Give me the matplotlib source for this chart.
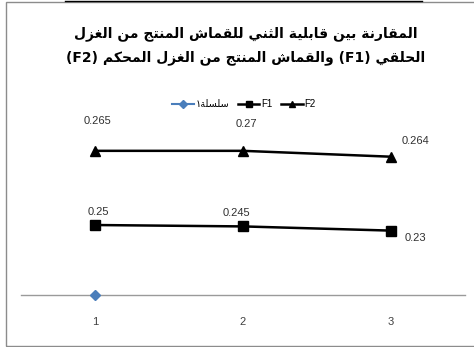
import re
import numpy as np
import matplotlib
matplotlib.use("Agg")
import matplotlib.pyplot as plt
from matplotlib.lines import Line2D
from matplotlib.patches import Rectangle

# Datos (grafico de lineas apiladas)
categorias = [1, 2, 3]
serie1 = [0, np.nan, np.nan]
f1 = [0.25, 0.245, 0.23]
f2 = [0.265, 0.27, 0.264]
titulo = ["المقارنة بين قابلية الثني للقماش المنتج من الغزل",
          "الحلقي (F1) والقماش المنتج من الغزل المحكم (F2)"]
nombres = ["سلسلة١", "F1", "F2"]

# formas de presentacion arabes (matplotlib no hace el "shaping")
DUAL = {0x628: 0xFE8F, 0x62A: 0xFE95, 0x62B: 0xFE99, 0x62C: 0xFE9D, 0x62D: 0xFEA1,
        0x62E: 0xFEA5, 0x633: 0xFEB1, 0x634: 0xFEB5, 0x635: 0xFEB9, 0x636: 0xFEBD,
        0x637: 0xFEC1, 0x638: 0xFEC5, 0x639: 0xFEC9, 0x63A: 0xFECD, 0x641: 0xFED1,
        0x642: 0xFED5, 0x643: 0xFED9, 0x644: 0xFEDD, 0x645: 0xFEE1, 0x646: 0xFEE5,
        0x647: 0xFEE9, 0x64A: 0xFEF1}
RIGHT = {0x627: 0xFE8D, 0x629: 0xFE93, 0x62F: 0xFEA9, 0x630: 0xFEAB, 0x631: 0xFEAD,
         0x632: 0xFEAF, 0x648: 0xFEED, 0x649: 0xFEEF}


def shape(txt):
    out = []
    for i, ch in enumerate(txt):
        c = ord(ch)
        if c not in DUAL and c not in RIGHT:
            out.append(ch)
            continue
        prev = ord(txt[i - 1]) if i > 0 else 0
        nxt = ord(txt[i + 1]) if i < len(txt) - 1 else 0
        jp = prev in DUAL
        jn = c in DUAL and (nxt in DUAL or nxt in RIGHT)
        if c in RIGHT:
            out.append(chr(RIGHT[c] + (1 if jp else 0)))
        else:
            k = 3 if (jp and jn) else 1 if jp else 2 if jn else 0
            out.append(chr(DUAL[c] + k))
    return "".join(out)


def visual(txt):
    s = shape(txt)[::-1]
    s = re.sub(r"[A-Za-z0-9]+", lambda m: m.group(0)[::-1], s)
    return s.translate(str.maketrans("()", ")("))


# valores apilados
base = np.nan_to_num(np.array(serie1, dtype=float))
f1_ap = base + np.array(f1)
f2_ap = f1_ap + np.array(f2)

W, H = 474, 347
fig = plt.figure(figsize=(W / 100, H / 100), dpi=100)
ax = fig.add_axes([21 / W, (H - 295) / H, 444 / W, 180 / H])

azul = "#4a7ebb"
ax.plot(categorias, serie1, color=azul, marker="D", markersize=5, lw=1.5, clip_on=False,
        zorder=5)
ax.plot(categorias, f1_ap, color="black", marker="s", markersize=7, lw=1.8)
ax.plot(categorias, f2_ap, color="black", marker="^", markersize=7, lw=1.8)

ax.set_xlim(0.5, 3.5)
ax.set_ylim(0, 0.643)
for s in ["top", "right", "left"]:
    ax.spines[s].set_visible(False)
ax.spines["bottom"].set_color("#9a9a9a")
ax.spines["bottom"].set_linewidth(1)
ax.set_yticks([])
ax.set_xticks(categorias)
ax.tick_params(axis="x", length=0, pad=16, labelsize=8, labelcolor="#404040")
for t in ax.get_xticklabels():
    t.set_family("Liberation Sans")

# etiquetas de datos (desplazamiento en pixeles)
off_f2 = [(3, -30), (3, -27), (24, -16)]
off_f1 = [(3, -13), (-7, -13), (24, 7)]
for x, y, v, o in zip(categorias, f2_ap, f2, off_f2):
    ax.annotate(f"{v:g}", (x, y), xytext=(o[0], -o[1]), textcoords="offset pixels",
                ha="center", va="center", fontsize=8, family="Liberation Sans",
                color="#303030")
for x, y, v, o in zip(categorias, f1_ap, f1, off_f1):
    ax.annotate(f"{v:g}", (x, y), xytext=(o[0], -o[1]), textcoords="offset pixels",
                ha="center", va="center", fontsize=8, family="Liberation Sans",
                color="#303030")

# titulo
fig.text(246 / W, 1 - 34 / H, visual(titulo[0]), ha="center", va="center",
         fontsize=10, fontweight="bold", family="DejaVu Sans")
fig.text(246 / W, 1 - 58 / H, visual(titulo[1]), ha="center", va="center",
         fontsize=10, fontweight="bold", family="DejaVu Sans")

# leyenda
handles = [Line2D([], [], color=azul, marker="D", markersize=4, lw=1.5),
           Line2D([], [], color="black", marker="s", markersize=5, lw=1.8),
           Line2D([], [], color="black", marker="^", markersize=5, lw=1.8)]
etiquetas = ["١" + shape("سلسلة")[::-1], nombres[1], nombres[2]]
fig.legend(handles, etiquetas, loc="center", bbox_to_anchor=(244 / W, 1 - 104 / H),
           ncol=3, frameon=False, handlelength=2.2, handletextpad=0.2,
           columnspacing=0.9, prop={"family": ["Liberation Sans", "DejaVu Sans"], "size": 7})

# marco del grafico
fig.patches.append(Rectangle((6 / W, 1 / H), 1, 344 / H, transform=fig.transFigure,
                             fill=False, edgecolor="#8c8c8c", lw=1))
fig.lines.append(Line2D([65 / W, 422 / W], [1 - 0.5 / H, 1 - 0.5 / H],
                        transform=fig.transFigure, color="black", lw=1))

fig.savefig("out.png", dpi=100)
